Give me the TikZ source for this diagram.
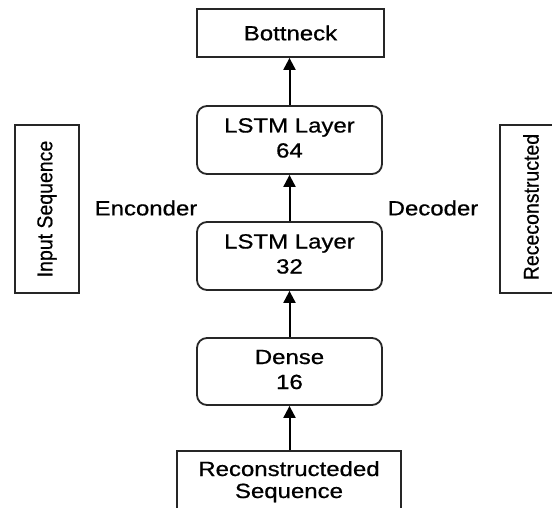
\documentclass[tikz,border=0pt]{standalone}
\usepackage{fontspec}
\setmainfont[FakeBold=0.6]{Liberation Sans}
\usetikzlibrary{arrows.meta}
\newcommand{\wtxt}[1]{\scalebox{1.17}[1]{#1}}
\newcommand{\rtxt}[1]{\scalebox{1}[1.1]{#1}}
\tikzset{
  boxr/.style={draw=black!85, line width=1.8pt, rounded corners=10pt, minimum width=185pt, minimum height=68pt, inner sep=0pt, align=center, font=\fontsize{20.5}{25}\selectfont},
  boxs/.style={draw=black!85, line width=1.8pt, inner sep=0pt, align=center, font=\fontsize{20.5}{25}\selectfont},
  side/.style={draw=black!85, line width=1.5pt, inner sep=0pt, minimum width=64pt, minimum height=168pt, font=\fontsize{19.5}{24}\selectfont},
  lbl/.style={inner sep=0pt, font=\fontsize{20.5}{25}\selectfont},
  arr/.style={line width=2pt, -{Triangle[length=12pt,width=12pt]}}
}
\begin{document}
\begin{tikzpicture}[x=1pt,y=-1pt]
\useasboundingbox (0,0) rectangle (552,508);
\clip (0,0) rectangle (552,508);
\fill[white] (0,0) rectangle (552,508);
\node[boxs, minimum width=187pt, minimum height=48pt] (bn) at (290.5,33) {\wtxt{Bottneck}};
\node[boxr] (l64) at (289.5,140) {\wtxt{\begin{tabular}{@{}c@{}}LSTM Layer\\64\end{tabular}}};
\node[boxr] (l32) at (289.5,256) {\wtxt{\begin{tabular}{@{}c@{}}LSTM Layer\\32\end{tabular}}};
\node[boxr, minimum height=67pt] (dn) at (289.5,371.5) {\wtxt{\begin{tabular}{@{}c@{}}Dense\\16\end{tabular}}};
\node[boxs, minimum width=224pt, minimum height=62pt] (rs) at (289,482) {\wtxt{\begin{tabular}{@{}c@{}}Reconstructeded\\[-3pt]Sequence\end{tabular}}};
\node[side] (in) at (47,209) {};
\node[rotate=90, font=\fontsize{19.5}{24}\selectfont, inner sep=0pt] (intext) at (in.center) {\rtxt{Input Sequence}};
\node[side] (rc) at (532,209) {};
\node[rotate=90, font=\fontsize{19.5}{24}\selectfont, inner sep=0pt] (rctext) at (531,207) {\rtxt{Receconstructed}};
\node[lbl] (enc) at (146,208) {\wtxt{Enconder}};
\node[lbl] (dec) at (433,208) {\wtxt{Decoder}};
\draw[arr] (rs.north -| dn.south) -- (dn.south);
\draw[arr] (dn.north) -- (l32.south);
\draw[arr] (l32.north) -- (l64.south);
\draw[arr] (l64.north) -- (l64.north |- bn.south);
\end{tikzpicture}
\end{document}
